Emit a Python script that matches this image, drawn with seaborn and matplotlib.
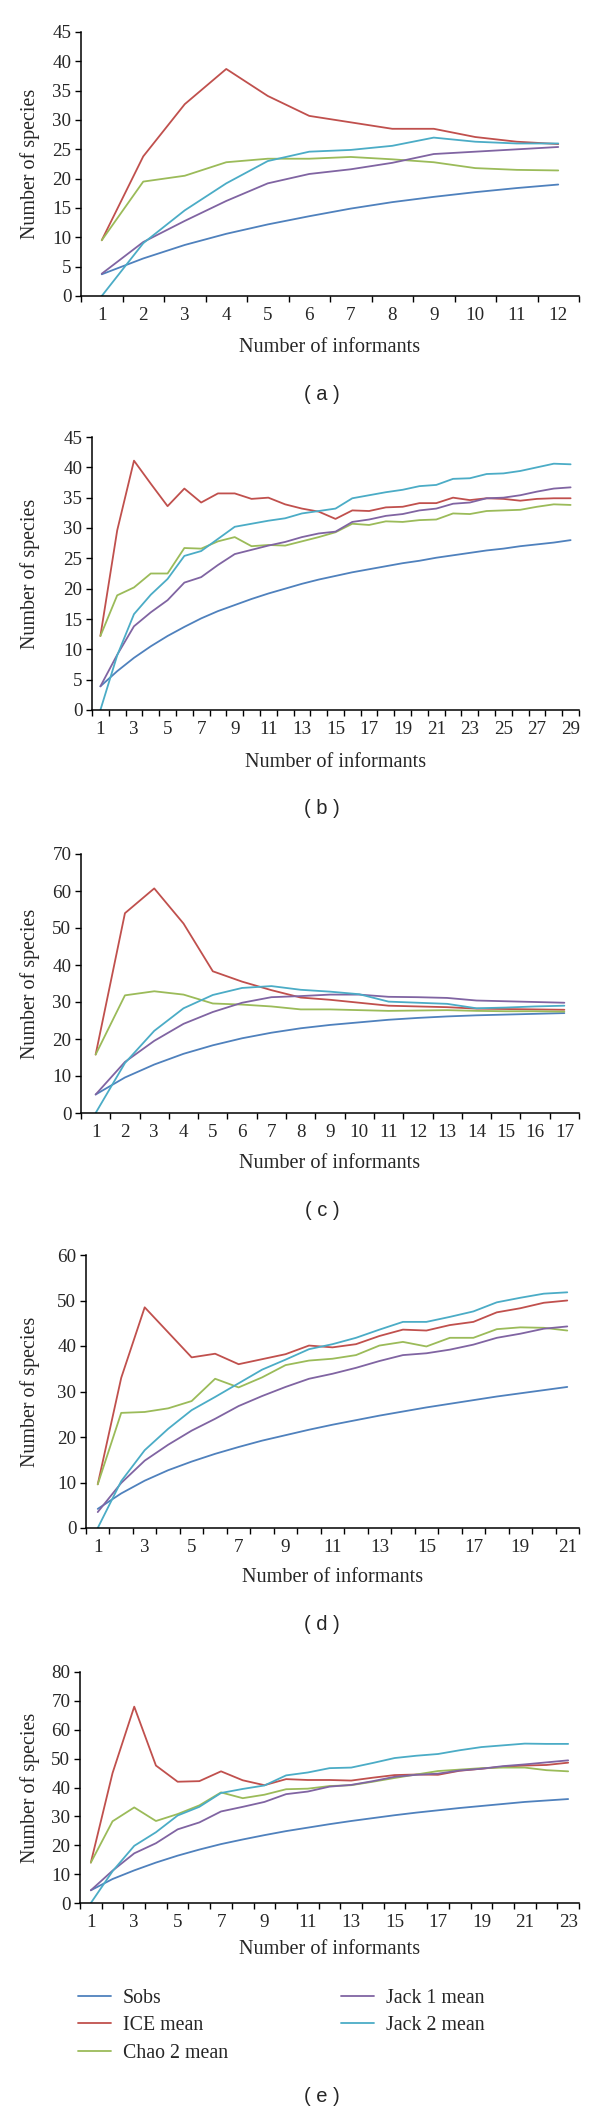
import numpy as np
import pandas as pd
import matplotlib
matplotlib.use("Agg")
import matplotlib.pyplot as plt
from matplotlib.lines import Line2D
import seaborn as sns

# species accumulation curves, five panels
series_names = ["Sobs", "ICE mean", "Chao 2 mean", "Jack 1 mean", "Jack 2 mean"]
colors = ["#4F81BD", "#C0504D", "#9BBB59", "#8064A2", "#4BACC6"]

# panel (a) - 12 informants
a_sobs = [3.7, 6.4, 8.7, 10.6, 12.2, 13.6, 14.9, 16.0, 16.9, 17.7, 18.4, 19.0]
a_ice = [9.5, 23.8, 32.7, 38.7, 34.1, 30.7, 29.6, 28.5, 28.5, 27.1, 26.3, 25.9]
a_chao = [9.5, 19.5, 20.5, 22.8, 23.4, 23.4, 23.7, 23.3, 22.8, 21.8, 21.5, 21.4]
a_jack1 = [3.8, 9.2, 12.8, 16.2, 19.2, 20.8, 21.6, 22.7, 24.2, 24.6, 25.0, 25.4]
a_jack2 = [0.0, 9.0, 14.6, 19.2, 23.0, 24.6, 24.9, 25.6, 27.0, 26.3, 26.0, 26.0]

# panel (b) - 29 informants
b_sobs = [3.9, 6.4, 8.6, 10.5, 12.2, 13.7, 15.1, 16.3, 17.3, 18.3, 19.2, 20.0, 20.8, 21.5, 22.1,
          22.7, 23.2, 23.7, 24.2, 24.6, 25.1, 25.5, 25.9, 26.3, 26.6, 27.0, 27.3, 27.6, 28.0]
b_ice = [12.2, 29.6, 41.1, 37.3, 33.6, 36.5, 34.2, 35.7, 35.7, 34.8, 35.0, 33.9, 33.2, 32.7, 31.5,
         32.9, 32.8, 33.4, 33.5, 34.1, 34.1, 35.0, 34.6, 34.9, 34.8, 34.5, 34.8, 34.9, 34.9]
b_chao = [12.2, 18.9, 20.2, 22.5, 22.5, 26.7, 26.6, 27.8, 28.5, 27.0, 27.2, 27.1, 27.8, 28.5, 29.3,
          30.7, 30.5, 31.1, 31.0, 31.3, 31.4, 32.4, 32.3, 32.8, 32.9, 33.0, 33.5, 33.9, 33.8]
b_jack1 = [3.9, 9.1, 13.8, 16.1, 18.1, 21.0, 21.9, 23.9, 25.7, 26.4, 27.1, 27.7, 28.5, 29.1, 29.4,
           31.0, 31.4, 32.0, 32.3, 32.9, 33.2, 34.0, 34.2, 34.9, 35.0, 35.4, 36.0, 36.5, 36.7]
b_jack2 = [0.0, 9.0, 15.8, 19.0, 21.6, 25.4, 26.2, 28.2, 30.2, 30.7, 31.2, 31.6, 32.4, 32.8, 33.2,
           34.9, 35.4, 35.9, 36.3, 36.9, 37.1, 38.1, 38.2, 38.9, 39.0, 39.4, 40.0, 40.6, 40.5]

# panel (c) - 17 informants
c_sobs = [5.0, 9.6, 13.1, 16.0, 18.3, 20.2, 21.7, 22.9, 23.8, 24.5, 25.2, 25.7, 26.1, 26.4, 26.6, 26.8, 27.0]
c_ice = [15.8, 54.0, 60.7, 51.2, 38.3, 35.5, 33.2, 31.2, 30.6, 29.8, 29.0, 28.8, 28.6, 28.2, 28.1, 28.0, 27.9]
c_chao = [15.8, 31.8, 32.9, 32.0, 29.6, 29.3, 28.8, 28.0, 28.0, 27.8, 27.6, 27.7, 27.8, 27.6, 27.5, 27.5, 27.4]
c_jack1 = [5.0, 13.8, 19.5, 24.1, 27.3, 29.8, 31.3, 31.6, 32.0, 32.0, 31.4, 31.3, 31.1, 30.4, 30.2, 30.0, 29.8]
c_jack2 = [0.0, 13.5, 22.2, 28.3, 31.9, 33.8, 34.3, 33.3, 32.8, 32.1, 30.1, 29.8, 29.5, 28.3, 28.5, 28.8, 29.0]

# panel (d) - 21 informants
d_sobs = [4.2, 7.6, 10.4, 12.7, 14.6, 16.3, 17.8, 19.2, 20.4, 21.6, 22.7, 23.7, 24.7, 25.6, 26.5,
          27.3, 28.1, 28.9, 29.6, 30.3, 31.0]
d_ice = [9.6, 33.0, 48.5, 43.0, 37.5, 38.3, 36.0, 37.1, 38.2, 40.1, 39.7, 40.4, 42.2, 43.6, 43.4,
         44.6, 45.3, 47.4, 48.3, 49.5, 50.0]
d_chao = [9.6, 25.3, 25.5, 26.3, 27.9, 32.8, 30.9, 33.1, 35.8, 36.8, 37.2, 38.0, 40.1, 40.9, 39.9,
          41.8, 41.8, 43.7, 44.1, 44.0, 43.4]
d_jack1 = [3.5, 9.9, 14.8, 18.3, 21.4, 24.0, 26.8, 29.0, 31.0, 32.8, 33.9, 35.2, 36.7, 38.0, 38.4,
           39.2, 40.3, 41.8, 42.7, 43.8, 44.3]
d_jack2 = [0.0, 10.3, 17.1, 21.8, 25.9, 28.8, 31.8, 34.8, 37.0, 39.3, 40.4, 41.8, 43.6, 45.3, 45.3,
           46.4, 47.6, 49.6, 50.6, 51.5, 51.8]

# panel (e) - 23 informants
e_sobs = [4.4, 8.3, 11.3, 14.0, 16.4, 18.5, 20.4, 22.0, 23.5, 24.9, 26.1, 27.3, 28.4, 29.4, 30.4,
          31.3, 32.1, 32.9, 33.6, 34.3, 35.0, 35.5, 36.0]
e_ice = [14.0, 45.0, 68.0, 47.6, 42.0, 42.2, 45.6, 42.5, 40.8, 42.9, 42.6, 42.6, 42.4, 43.4, 44.3,
         44.5, 44.4, 45.8, 46.5, 47.2, 47.6, 47.8, 48.6]
e_chao = [14.0, 28.3, 33.1, 28.4, 30.8, 33.8, 38.3, 36.3, 37.5, 39.4, 39.6, 40.5, 40.8, 42.0, 43.3,
          44.5, 45.7, 46.2, 46.7, 46.9, 46.9, 46.0, 45.6]
e_jack1 = [4.4, 11.2, 17.2, 20.7, 25.5, 27.9, 31.7, 33.3, 35.0, 37.7, 38.6, 40.3, 40.9, 42.2, 43.7,
           44.4, 44.8, 45.9, 46.5, 47.4, 48.0, 48.7, 49.4]
e_jack2 = [0.0, 11.0, 19.8, 24.5, 30.3, 33.3, 38.1, 39.5, 40.7, 44.2, 45.2, 46.7, 46.9, 48.5, 50.2,
           51.0, 51.6, 52.9, 54.0, 54.6, 55.2, 55.1, 55.1]

panels = [
    ("( a )", [a_sobs, a_ice, a_chao, a_jack1, a_jack2], 45, 5, 1),
    ("( b )", [b_sobs, b_ice, b_chao, b_jack1, b_jack2], 45, 5, 2),
    ("( c )", [c_sobs, c_ice, c_chao, c_jack1, c_jack2], 70, 10, 1),
    ("( d )", [d_sobs, d_ice, d_chao, d_jack1, d_jack2], 60, 10, 2),
    ("( e )", [e_sobs, e_ice, e_chao, e_jack1, e_jack2], 80, 10, 2),
]

# axes boxes in pixels: left, right, top, bottom ; then xlabel y, panel label y
W, H = 600, 2110
boxes = [
    (81, 579, 32, 296, 347, 394),
    (92, 579, 437, 710, 762, 808),
    (81, 579, 854, 1113, 1163, 1210),
    (86, 579, 1255, 1528, 1578, 1625),
    (80, 579, 1672, 1903, 1950, 2097),
]

sns.set_style("ticks")
serif = ["Liberation Serif", "DejaVu Serif"]
plt.rcParams["font.family"] = serif

fig = plt.figure(figsize=(W / 100, H / 100), dpi=100)

for (label, vals, ymax, ystep, xstep), (l, r, t, b, xl_y, pl_y) in zip(panels, boxes):
    ax = fig.add_axes([l / W, 1 - b / H, (r - l) / W, (b - t) / H])
    n = len(vals[0])
    df = pd.DataFrame({
        "informants": np.tile(np.arange(1, n + 1), len(series_names)),
        "species": np.concatenate(vals),
        "series": np.repeat(series_names, n),
    })
    sns.lineplot(data=df, x="informants", y="species", hue="series", hue_order=series_names,
                 palette=colors, linewidth=1.3, legend=False, ax=ax)
    ax.set_xlim(0.5, n + 0.5)
    ax.set_ylim(0, ymax)
    ax.set_yticks(np.arange(0, ymax + 1, ystep))
    ax.set_xticks(np.arange(1, n + 1, xstep))
    ax.set_xticks(np.arange(0.5, n + 1.0, 1), minor=True)
    ax.tick_params(axis="x", which="major", length=0, pad=8, labelsize=13.7)
    ax.tick_params(axis="x", which="minor", length=4, width=1, direction="out", color="black")
    ax.tick_params(axis="y", length=4, width=1, direction="out", color="black", labelsize=13.7, pad=3)
    for s in ["top", "right"]:
        ax.spines[s].set_visible(False)
    for s in ["left", "bottom"]:
        ax.spines[s].set_color("black")
        ax.spines[s].set_linewidth(1.1)
    ax.set_xlabel("")
    ax.set_ylabel("")
    fig.text((l + r) / 2 / W, 1 - xl_y / H, "Number of informants", ha="center", va="center", fontsize=14.6)
    fig.text(30 / W, 1 - (t + b) / 2 / H, "Number of species", ha="center", va="center",
             rotation=90, fontsize=14.4)
    fig.text(322 / W, 1 - pl_y / H, label, ha="center", va="center", fontsize=14.5,
             family=["Liberation Sans", "DejaVu Sans"])

handles = [Line2D([0], [0], color=c, lw=1.3) for c in colors]
fig.legend(handles, series_names, loc="upper left", bbox_to_anchor=(78 / W, 1 - 1989 / H),
           ncol=2, frameon=False, fontsize=14.3, handlelength=1.66, handletextpad=0.6,
           columnspacing=5.7, labelspacing=0.42, borderpad=0, borderaxespad=0)

fig.savefig("out.png", dpi=100)
